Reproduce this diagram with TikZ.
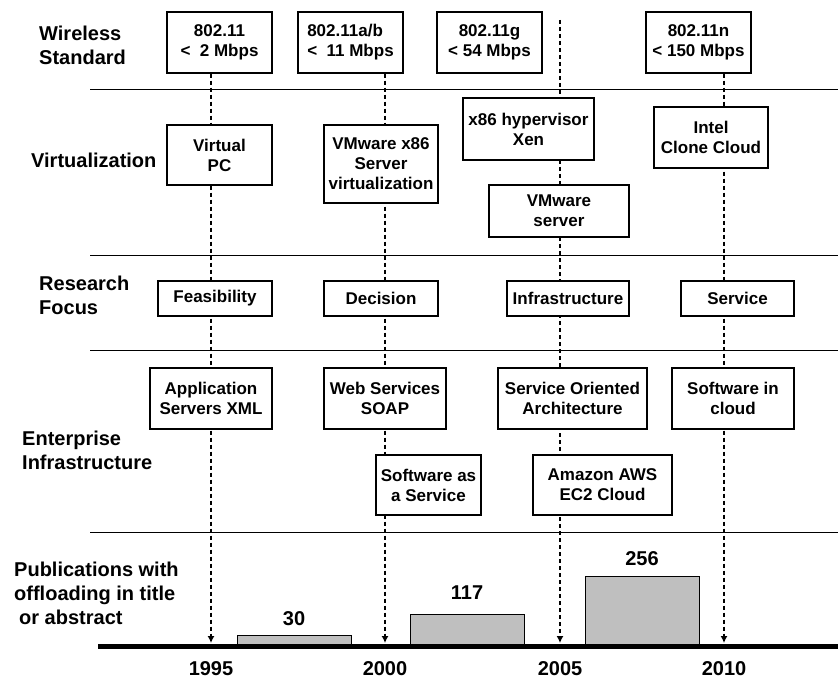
\documentclass[tikz,border=0pt]{standalone}
\usepackage{fontspec}
\setmainfont{Liberation Sans}
\usetikzlibrary{positioning, arrows.meta, backgrounds}
\newcommand{\boxfont}{\fontsize{17}{20}\selectfont\bfseries}
\newcommand{\labfont}{\fontsize{20}{24}\selectfont\bfseries}

\begin{document}
\begin{tikzpicture}[x=1pt, y=-1pt,
    eventbox/.style={rectangle, draw, line width=1.2pt, fill=white, align=center, inner sep=0pt, font=\boxfont},
    rowlabel/.style={anchor=west, align=left, inner sep=0pt, font=\labfont},
    yearlabel/.style={inner sep=0pt, font=\labfont},
    countbar/.style={rectangle, draw, line width=1pt, fill=black!25, anchor=south, minimum width=114, inner sep=0pt},
    timeline/.style={dash pattern=on 4pt off 3pt, line width=1.3pt, -{Latex[length=7pt,width=7pt]}}]
    \useasboundingbox (0,0) rectangle (838,682);

    % row labels
    \node[rowlabel] (wireless)   at (39,45)    {Wireless\\Standard};
    \node[rowlabel] (virtual)    at (31,160.5) {Virtualization};
    \node[rowlabel] (research)   at (39,295)   {Research\\Focus};
    \node[rowlabel] (enterprise) at (22,450)   {Enterprise\\Infrastructure};
    \node[rowlabel] (pubs)       at (14,593)   {Publications with\\offloading in title\\\hspace*{5pt}or abstract};

    % row separators
    \foreach \sy in {90,255,350,532}
        \draw[line width=1pt] (90,\sy) -- (838,\sy);

    % wireless standards
    \node (std1) at (219.5,42.5) [eventbox, minimum width=105, minimum height=61] {802.11\\<\ \ 2 Mbps};
    \node (std2) at (350.5,42.5) [eventbox, minimum width=105, minimum height=61, align=left] {802.11a/b\\<\ \ 11 Mbps};
    \node (std3) at (489.5,42.5) [eventbox, minimum width=105, minimum height=61] {802.11g\\< 54 Mbps};
    \node (std4) at (698.5,42.5) [eventbox, minimum width=105, minimum height=61] {802.11n\\< 150 Mbps};

    % virtualization
    \node (virt1) at (219.5,155) [eventbox, minimum width=105, minimum height=60] {Virtual\\PC};
    \node (virt2) at (381,164)   [eventbox, minimum width=114, minimum height=78] {VMware x86\\Server\\virtualization};
    \node (virt3) at (528.5,129) [eventbox, minimum width=131, minimum height=62] {x86 hypervisor\\Xen};
    \node (virt4) at (559,211)   [eventbox, minimum width=140, minimum height=52] {VMware\\server};
    \node (virt5) at (711,137.5) [eventbox, minimum width=114, minimum height=61] {Intel\\Clone Cloud};

    % research focus
    \node (res1) at (215,298.5)   [eventbox, minimum width=114, minimum height=35] {Feasibility};
    \node (res2) at (381,298.5)   [eventbox, minimum width=114, minimum height=35] {Decision};
    \node (res3) at (568,298.5)   [eventbox, minimum width=122, minimum height=35] {Infrastructure};
    \node (res4) at (737.5,298.5) [eventbox, minimum width=113, minimum height=35] {Service};

    % enterprise infrastructure
    \node (ent1) at (211,398.5)   [eventbox, minimum width=122, minimum height=61] {Application\\Servers XML};
    \node (ent2) at (385,398.5)   [eventbox, minimum width=122, minimum height=61] {Web Services\\SOAP};
    \node (ent3) at (572.5,398.5) [eventbox, minimum width=149, minimum height=61] {Service Oriented\\Architecture};
    \node (ent4) at (733,398.5)   [eventbox, minimum width=122, minimum height=61] {Software in\\cloud};
    \node (ent5) at (428.5,485)   [eventbox, minimum width=105, minimum height=60] {Software as\\a Service};
    \node (ent6) at (602.5,485)   [eventbox, minimum width=139, minimum height=60] {Amazon AWS\\EC2 Cloud};

    % publication counts
    \node (bar30)  at (294,646) [countbar, minimum height=10] {};
    \node (bar117) at (467,646) [countbar, minimum height=31] {};
    \node (bar256) at (642,646) [countbar, minimum height=69] {};
    \node[yearlabel, above=9pt of bar30]   (n30)  {30};
    \node[yearlabel, above=14pt of bar117] (n117) {117};
    \node[yearlabel, above=10pt of bar256] (n256) {256};

    % time axis
    \draw[line width=5pt] (98,646) -- (838,646);
    \coordinate (y1995) at (211,643);
    \coordinate (y2000) at (385,643);
    \coordinate (y2005) at (560,643);
    \coordinate (y2010) at (724,643);
    \coordinate (t2005) at (560,20);
    \node[yearlabel] (yr1995) at (211,669) {1995};
    \node[yearlabel] (yr2000) at (385,669) {2000};
    \node[yearlabel] (yr2005) at (560,669) {2005};
    \node[yearlabel] (yr2010) at (724,669) {2010};

    \begin{scope}[on background layer]
        \draw[timeline] (std1.south -| y1995) -- (y1995);
        \draw[timeline] (std2.south -| y2000) -- (y2000);
        \draw[timeline] (t2005) -- (y2005);
        \draw[timeline] (std4.south -| y2010) -- (y2010);
    \end{scope}
\end{tikzpicture}
\end{document}
